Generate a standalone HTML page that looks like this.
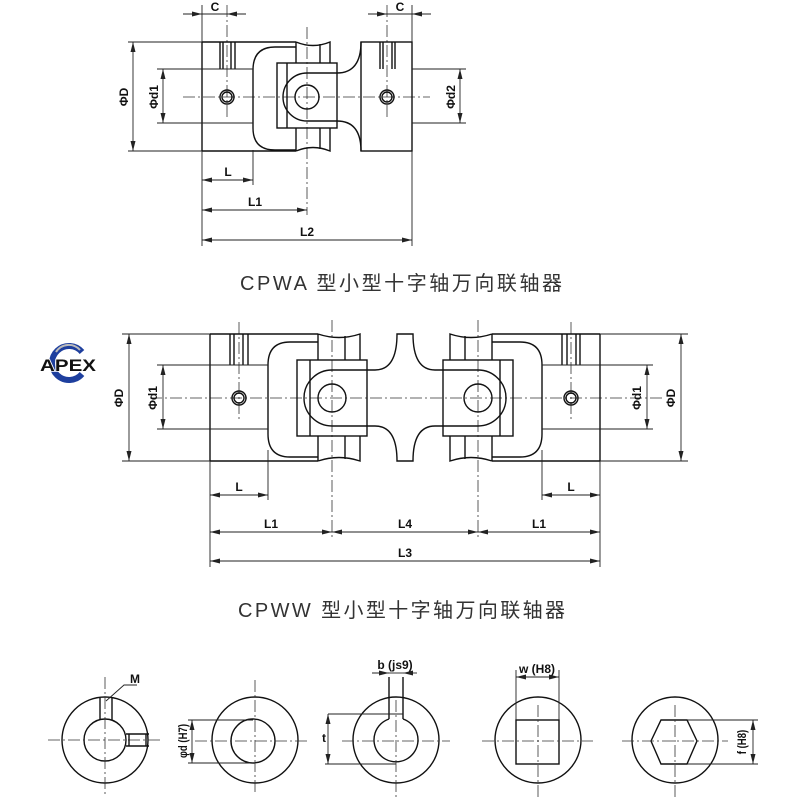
<!DOCTYPE html>
<html><head><meta charset="utf-8"><style>
html,body{margin:0;padding:0;background:#fff}
svg{display:block}
.s{fill:none;stroke:#111;stroke-width:1.4}
.c{fill:none;stroke:#333;stroke-width:0.8;stroke-dasharray:12 3 2 3}
.d{fill:none;stroke:#222;stroke-width:0.9}
.a{fill:none;stroke:#222;stroke-width:0.9;marker-start:url(#ar);marker-end:url(#ar)}
.t{font-family:"Liberation Sans",sans-serif;font-weight:bold;font-size:12px;fill:#111}
.ti{font-family:"Liberation Sans","Noto Sans CJK SC",sans-serif;font-size:20px;fill:#333}
</style></head><body>
<svg width="800" height="800" viewBox="0 0 800 800" xmlns="http://www.w3.org/2000/svg">
<defs>
<marker id="ar" viewBox="0 0 10 6" refX="10" refY="3" markerWidth="10" markerHeight="6" markerUnits="userSpaceOnUse" orient="auto-start-reverse"><path d="M0,0.5 L10,3 L0,5.5z" fill="#222"/></marker>
</defs>

<!-- ============ TOP CPWA ============ -->
<g>
<line class="c" x1="183" y1="97" x2="430" y2="97"/>
<line class="c" x1="307" y1="27" x2="307" y2="215"/>
<line class="c" x1="227" y1="5" x2="227" y2="117"/>
<line class="c" x1="387" y1="5" x2="387" y2="117"/>
<path class="s" d="M202 42 V151 M202 42 H296 M202 151 H296"/>
<path class="s" d="M220 42V69 M223 42V69 M231 42V69 M235 42V69"/>
<path class="s" d="M296 47 H275 Q253 47 253 70 V128 Q253 150 275 150 H296"/>
<path class="s" d="M296 42 Q313 49 330 42 V63 M296 42V63 M320 44V63"/>
<path class="s" d="M296 151 Q313 144 330 151 V128 M296 151V128 M320 149V128"/>
<rect class="s" x="277" y="63" width="60" height="65"/>
<line class="s" x1="287" y1="63" x2="287" y2="128"/>
<path class="s" d="M337 73 H307 A24 24 0 0 0 307 121 H337"/>
<circle class="s" cx="307" cy="97" r="12"/>
<path class="s" d="M337 73 C355 73 361 60 361 42 M337 121 C355 121 361 134 361 151"/>
<rect class="s" x="361" y="42" width="51" height="109"/>
<path class="s" d="M380 42V69 M383 42V69 M392 42V69 M395 42V69"/>
<circle class="s" cx="227" cy="97" r="7"/><circle class="s" cx="227" cy="97" r="5"/>
<circle class="s" cx="387" cy="97" r="7"/><circle class="s" cx="387" cy="97" r="5"/>
<path class="d" d="M202 5V42 M412 5V42 M128 42H202 M128 151H202 M157 69H253 M157 123H253 M412 69H466 M412 123H466 M253 150V185 M202 151V246 M412 151V246"/>
<line class="a" x1="183" y1="14" x2="202" y2="14" style="marker-start:none"/>
<line class="a" x1="246" y1="14" x2="227" y2="14" style="marker-start:none"/>
<line class="d" x1="202" y1="14" x2="227" y2="14"/>
<line class="a" x1="368" y1="14" x2="387" y2="14" style="marker-start:none"/>
<line class="a" x1="431" y1="14" x2="412" y2="14" style="marker-start:none"/>
<line class="d" x1="387" y1="14" x2="412" y2="14"/>
<text class="t" x="215" y="11" text-anchor="middle">C</text>
<text class="t" x="400" y="11" text-anchor="middle">C</text>
<line class="a" x1="133" y1="42" x2="133" y2="151"/>
<line class="a" x1="163" y1="69" x2="163" y2="123"/>
<line class="a" x1="460" y1="69" x2="460" y2="123"/>
<text class="t" transform="translate(128,97) rotate(-90)" text-anchor="middle">ΦD</text>
<text class="t" transform="translate(158,97) rotate(-90)" text-anchor="middle">Φd1</text>
<text class="t" transform="translate(455,97) rotate(-90)" text-anchor="middle">Φd2</text>
<line class="a" x1="202" y1="180" x2="253" y2="180"/>
<line class="a" x1="202" y1="210" x2="307" y2="210"/>
<line class="a" x1="202" y1="240" x2="412" y2="240"/>
<text class="t" x="228" y="176" text-anchor="middle">L</text>
<text class="t" x="255" y="206" text-anchor="middle">L1</text>
<text class="t" x="307" y="236" text-anchor="middle">L2</text>
</g>
<text class="ti" x="240" y="290" textLength="322" lengthAdjust="spacing">CPWA 型小型十字轴万向联轴器</text>

<!-- ============ MIDDLE CPWW ============ -->
<line class="c" x1="150" y1="398" x2="662" y2="398"/>
<line class="c" x1="332" y1="320" x2="332" y2="540"/>
<line class="c" x1="478" y1="320" x2="478" y2="540"/>
<line class="c" x1="239" y1="322" x2="239" y2="420"/>
<line class="c" x1="571" y1="322" x2="571" y2="420"/>
<g id="half">
<path class="s" d="M210 334 V461 M210 334 H318 M210 461 H318"/>
<path class="s" d="M230 334V365 M234 334V365 M243 334V365 M248 334V365"/>
<path class="s" d="M318 342 H290 Q268 342 268 365 V434 Q268 457 290 457 H318"/>
<path class="s" d="M318 334 Q339 341 360 334 V360 M318 334V360 M345 336V360"/>
<path class="s" d="M318 461 Q339 454 360 461 V436 M318 461V436 M345 459V436"/>
<rect class="s" x="297" y="360" width="70" height="76"/>
<line class="s" x1="310" y1="360" x2="310" y2="436"/>
<path class="s" d="M367 370 H332 A28 28 0 0 0 332 426 H367"/>
<circle class="s" cx="332" cy="398" r="14"/>
<circle class="s" cx="239" cy="398" r="7"/><circle class="s" cx="239" cy="398" r="5"/>
<path class="s" d="M367 370 H375 Q397 370 397 334 H405 M367 426 H375 Q397 426 397 461 H405"/>
<path class="d" d="M122 334H210 M122 461H210 M157 365H268 M157 429H268 M210 461V567 M268 450V500"/>
</g>
<use href="#half" transform="translate(810,0) scale(-1,1)"/>
<line class="a" x1="129" y1="334" x2="129" y2="461"/>
<line class="a" x1="163" y1="365" x2="163" y2="429"/>
<line class="a" x1="681" y1="334" x2="681" y2="461"/>
<line class="a" x1="647" y1="365" x2="647" y2="429"/>
<text class="t" transform="translate(123,398) rotate(-90)" text-anchor="middle">ΦD</text>
<text class="t" transform="translate(157,398) rotate(-90)" text-anchor="middle">Φd1</text>
<text class="t" transform="translate(641,398) rotate(-90)" text-anchor="middle">Φd1</text>
<text class="t" transform="translate(675,398) rotate(-90)" text-anchor="middle">ΦD</text>
<line class="a" x1="210" y1="495" x2="268" y2="495"/>
<line class="a" x1="542" y1="495" x2="600" y2="495"/>
<line class="a" x1="210" y1="532" x2="332" y2="532"/>
<line class="a" x1="332" y1="532" x2="478" y2="532"/>
<line class="a" x1="478" y1="532" x2="600" y2="532"/>
<line class="a" x1="210" y1="561" x2="600" y2="561"/>
<text class="t" x="239" y="491" text-anchor="middle">L</text>
<text class="t" x="571" y="491" text-anchor="middle">L</text>
<text class="t" x="271" y="528" text-anchor="middle">L1</text>
<text class="t" x="405" y="528" text-anchor="middle">L4</text>
<text class="t" x="539" y="528" text-anchor="middle">L1</text>
<text class="t" x="405" y="557" text-anchor="middle">L3</text>
<!-- logo -->
<path d="M82 352 A17 17 0 1 0 82 374" fill="none" stroke="#1e3f9e" stroke-width="6"/>
<path d="M56 352 A15 15 0 0 1 80 350" fill="none" stroke="#bbb" stroke-width="2"/>
<text x="40" y="371" textLength="56" lengthAdjust="spacingAndGlyphs" style="font-family:'Liberation Sans',sans-serif;font-weight:bold;font-size:17px;fill:#111;stroke:#fff;stroke-width:1.5;paint-order:stroke">APEX</text>
<text class="ti" x="238" y="617" textLength="327" lengthAdjust="spacing">CPWW 型小型十字轴万向联轴器</text>

<!-- ============ BOTTOM SECTIONS ============ -->
<g>
<circle class="s" cx="105" cy="740" r="43"/>
<circle class="s" cx="105" cy="740" r="21"/>
<line class="c" x1="48" y1="740" x2="162" y2="740"/>
<line class="c" x1="105" y1="677" x2="105" y2="795"/>
<path class="s" d="M100 698V720 M112 698V720 M126 734H149 M126 746H149 M129 734V746 M146 734V746"/>
<path class="d" d="M106 701 L124 685 H137"/>
<text class="t" x="130" y="683" font-size="9">M</text>
<circle class="s" cx="255" cy="740" r="43"/>
<circle class="s" cx="253" cy="741" r="22"/>
<line class="c" x1="195" y1="741" x2="310" y2="741"/>
<line class="c" x1="255" y1="680" x2="255" y2="795"/>
<path class="d" d="M188 720H253 M188 763H253"/>
<line class="a" x1="192" y1="720" x2="192" y2="763"/>
<text class="t" transform="translate(187,741) rotate(-90) scale(0.8,1)" text-anchor="middle" font-size="9">φd (H7)</text>
<circle class="s" cx="396" cy="740" r="43"/>
<path class="s" d="M389 719 A22 22 0 1 0 403 719" stroke-width="1.8"/>
<path class="s" d="M389 677V719 M403 677V719"/>
<line class="c" x1="342" y1="741" x2="450" y2="741"/>
<line class="c" x1="396" y1="700" x2="396" y2="797"/>
<path class="d" d="M328 714H403 M325 764H396"/>
<line class="a" x1="328" y1="714" x2="328" y2="764"/>
<line class="a" x1="372" y1="673" x2="389" y2="673" style="marker-start:none"/>
<line class="a" x1="417" y1="673" x2="403" y2="673" style="marker-start:none"/>
<line class="d" x1="389" y1="673" x2="403" y2="673"/>
<text class="t" x="395" y="669" text-anchor="middle" font-size="8">b (js9)</text>
<text class="t" x="322" y="742" font-size="8">t</text>
<circle class="s" cx="538" cy="740" r="43"/>
<rect class="s" x="516" y="720" width="43" height="44"/>
<line class="c" x1="482" y1="741" x2="593" y2="741"/>
<line class="c" x1="538" y1="705" x2="538" y2="797"/>
<path class="d" d="M516 670V720 M559 670V720"/>
<line class="a" x1="516" y1="677" x2="559" y2="677"/>
<text class="t" x="537" y="673" text-anchor="middle" font-size="8">w (H8)</text>
<circle class="s" cx="675" cy="740" r="43"/>
<path class="s" d="M651 741 L661 720 H687 L697 741 L687 764 H661 Z"/>
<line class="c" x1="622" y1="741" x2="728" y2="741"/>
<line class="c" x1="675" y1="705" x2="675" y2="797"/>
<path class="d" d="M687 720H758 M687 764H758"/>
<line class="a" x1="753" y1="720" x2="753" y2="764"/>
<text class="t" transform="translate(746,742) rotate(-90) scale(0.8,1)" text-anchor="middle" font-size="9">f (H8)</text>
</g>
</svg>
</body></html>
